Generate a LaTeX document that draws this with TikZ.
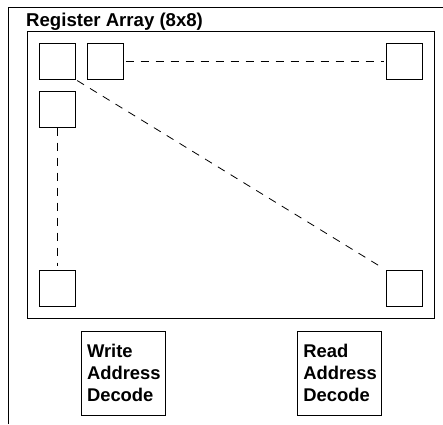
\documentclass[tikz,border=0pt]{standalone}
\usepackage{fontspec}
\setmainfont{Liberation Sans}
\begin{document}
\begin{tikzpicture}[x=1pt,y=-1pt,
  cell/.style={draw,line width=1pt,minimum size=36pt,inner sep=0pt},
  dline/.style={line width=0.8pt,dash pattern=on 8pt off 7pt},
  decbox/.style={draw,line width=1pt,minimum width=84pt,minimum height=84pt,
    text width=72pt,inner xsep=6pt,inner ysep=0pt,align=left,
    font=\fontsize{18.4}{22}\selectfont\bfseries},
  title/.style={inner sep=0pt,font=\fontsize{18.6}{22}\selectfont\bfseries}]
\useasboundingbox (0,0) rectangle (443,424);
% outer frame (partly clipped)
\draw[line width=1pt] (8,424) -- (8,7) -- (443,7);
\node[title,anchor=base west] (ttl) at (26,26) {Register Array (8x8)};
% inner array frame
\draw[line width=1pt] (27,31) rectangle (434,318);
% cells
\node[cell] (a) at (57,61) {};
\node[cell] (b) at (105,61) {};
\node[cell] (c) at (57,109) {};
\node[cell] (d) at (404.5,61) {};
\node[cell] (e) at (57,288.5) {};
\node[cell] (f) at (404.5,288.5) {};
% dashed connectors
\draw[dline] (b.east) ++(2pt,0) coordinate (b1) (d.west) ++(-2pt,0) coordinate (d1);
\draw[dline] (b1) -- (d1);
\draw[dline,shorten <=2pt,shorten >=3pt] (a.south east) -- (f.north west);
\draw[dline,shorten >=4pt] (c.south) -- (e.north);
% decoders
\node[decbox] (w) at (123,373) {Write\\Address\\Decode};
\node[decbox] (r) at (339.3,373) {Read\\Address\\Decode};
\end{tikzpicture}
\end{document}
